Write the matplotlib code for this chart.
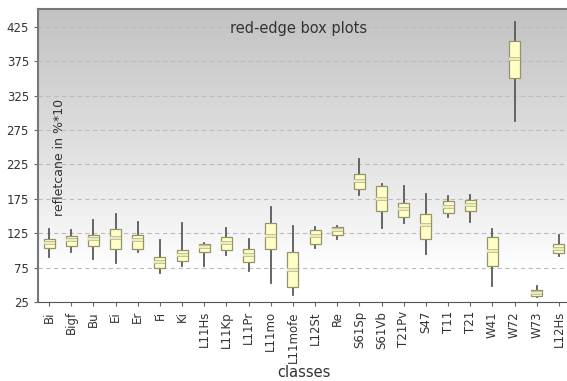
import matplotlib.pyplot as plt
import matplotlib.patheffects as pe
import numpy as np

classes = ["Bi", "Bigf", "Bu", "Ei", "Er", "Fi", "Ki", "L11Hs", "L11Kp", "L11Pr",
           "L11mo", "L11mofe", "L12St", "Re", "S61Sp", "S61Vb", "T21Pv", "S47",
           "T11", "T21", "W41", "W72", "W73", "L12Hs"]
whisker_low = [91, 98, 87, 82, 98, 67, 77, 77, 93, 70,
               52, 35, 103, 116, 180, 132, 140, 95, 148, 141, 48, 288, 32, 92]
q1 = [103.5, 107, 106.5, 101.5, 102.5, 75, 84.5, 98, 100, 83,
      102.5, 47, 110, 122, 190, 157, 148, 116, 154.5, 158, 78, 351, 34, 96]
median = [111, 115, 117, 118, 115, 83, 93, 105, 111, 93,
          121.5, 72, 120.5, 129, 200.5, 175, 160, 136.5, 163, 165.5, 99, 378, 38, 102.5]
q3 = [117, 120.5, 123, 131.5, 123, 90.5, 100, 110, 119, 102,
      140, 97.5, 129, 134, 211.5, 193.5, 169, 153.5, 172, 174, 119.5, 404.5, 42, 109]
whisker_high = [131.5, 130, 144, 153.5, 142, 114.5, 140, 111, 133, 116,
                163, 135.5, 134, 135, 233.5, 197, 193, 181.5, 178.5, 180, 130.5, 432, 48, 123]

stats = []
for i, name in enumerate(classes):
    stats.append(dict(label=name, whislo=whisker_low[i], q1=q1[i], med=median[i],
                      q3=q3[i], whishi=whisker_high[i], fliers=[]))

fig = plt.figure(figsize=(5.67, 3.81), dpi=100)
ax = fig.add_axes([38 / 567, 1 - 302 / 381, 532 / 567, 293 / 381])

# grey (top) to white (bottom) background
t = np.linspace(0, 1, 256)
shade = 1.0 - 0.24 * np.clip((t - 0.12) / 0.88, 0, 1) ** 0.9
img = np.dstack([shade, shade, shade]).reshape(-1, 1, 3)
ax.imshow(img, extent=[0, 1, 0, 1], transform=ax.transAxes, aspect="auto",
          origin="lower", zorder=0)

ax.set_ylim(25, 451)
ax.set_xlim(0.5, 24.5)
ax.set_yticks(np.arange(25, 426, 50))
ax.yaxis.grid(True, linestyle=(0, (4, 3)), color="#bcbcbc", linewidth=0.8, zorder=1)

parts = ax.bxp(stats, positions=np.arange(1, len(classes) + 1), widths=0.5,
               patch_artist=True, showcaps=False, showfliers=False,
               boxprops=dict(facecolor="#ffffc6", edgecolor="#94936c", linewidth=0.9),
               medianprops=dict(color="#f6f4c2", linewidth=1.2),
               whiskerprops=dict(color="#5a5a5a", linewidth=1.3))
for box in parts["boxes"]:
    box.set_zorder(4)
for w in parts["whiskers"]:
    w.set_zorder(3)
for m in parts["medians"]:
    m.set_zorder(5)
    m.set_path_effects([pe.Stroke(linewidth=2.8, foreground="#c2c09a"), pe.Normal()])

ax.set_xticks(np.arange(1, len(classes) + 1))
ax.set_xticklabels(classes, rotation=90, fontsize=8.5, color="#333333")
ax.tick_params(axis="y", labelsize=8.5, labelcolor="#333333", length=3, color="#666666")
ax.tick_params(axis="x", length=3, color="#666666")

for side in ["top", "left"]:
    ax.spines[side].set_color("#777777")
    ax.spines[side].set_linewidth(1.5)
ax.spines["bottom"].set_color("#555555")
ax.spines["right"].set_visible(False)

ax.text(0.49, 0.935, "red-edge box plots", transform=ax.transAxes, ha="center",
        va="center", fontsize=10.5, color="#333333")
ax.text(0.04, 0.495, "refletcane in %*10", transform=ax.transAxes, rotation=90,
        ha="center", va="center", fontsize=9, color="#333333")
ax.set_xlabel("classes", fontsize=10.5, color="#333333", labelpad=2)

fig.savefig("out.png", dpi=100)
